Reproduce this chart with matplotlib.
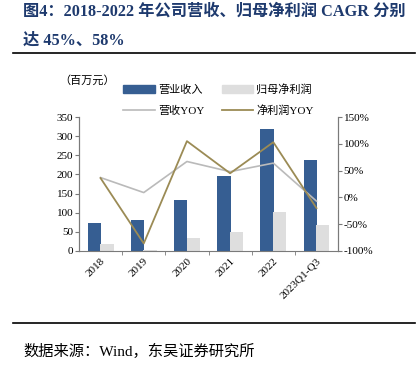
"""Revenue and net profit with YoY growth, 2018-2023Q1-Q3."""

import matplotlib
matplotlib.use("Agg")
import matplotlib.pyplot as plt
from matplotlib.lines import Line2D
from matplotlib.patches import Patch
from matplotlib.ticker import FuncFormatter

FONTS = ["Liberation Serif", "Noto Sans CJK SC", "DejaVu Sans"]
plt.rcParams["font.family"] = FONTS

years = ["2018", "2019", "2020", "2021", "2022", "2023Q1-Q3"]
revenue = [73, 80, 132, 195, 319, 239]
net_profit = [17, 3, 35, 50, 103, 69]
revenue_yoy = [37, 9, 67, 48, 64, -7]
profit_yoy = [36, -86, 105, 45, 103, -20]

BLUE = "#365e92"
LIGHT = "#dedede"
GRAY = "#bababa"
OLIVE = "#9b8b55"
NAVY = "#1e3a6e"
SPINE = "#7a7a7a"

fig = plt.figure(figsize=(4.2, 3.68), dpi=100)
ax = fig.add_axes([0.188, 0.318, 0.617, 0.364])
ax2 = ax.twinx()

x = list(range(len(years)))
ax.bar([i - 0.3 for i in x], revenue, width=0.31, align="edge", color=BLUE, zorder=2)
ax.bar([i - 0.01 for i in x], net_profit, width=0.31, align="edge", color=LIGHT, zorder=2)
ax2.plot(x, revenue_yoy, color=GRAY, lw=1.2)
ax2.plot(x, profit_yoy, color=OLIVE, lw=1.3)

ax.set_xlim(-0.5, len(years) - 0.5)
ax.set_ylim(0, 350)
ax.set_yticks(range(0, 351, 50))
ax2.set_ylim(-100, 150)
ax2.set_yticks(range(-100, 151, 50))
ax2.yaxis.set_major_formatter(FuncFormatter(lambda v, _: f"{v:.0f}%"))

ax.set_xticks(x)
ax.set_xticklabels(years, rotation=45, ha="right", va="top", rotation_mode="anchor")
ax.set_xticks([i + 0.5 for i in x[:-1]], minor=True)
ax.tick_params(axis="x", which="major", length=0, pad=4, labelsize=8)
ax.tick_params(axis="x", which="minor", length=3, direction="out", color=SPINE)
ax.tick_params(axis="y", length=3, direction="out", color=SPINE, labelsize=8, pad=1)
ax2.tick_params(axis="y", length=3, direction="out", color=SPINE, labelsize=8, pad=1)

for a in (ax, ax2):
    a.spines["top"].set_visible(False)
    for side in ("left", "right", "bottom"):
        a.spines[side].set_color(SPINE)
ax2.spines["bottom"].set_visible(False)

fig.text(0.14, 0.782, "（百万元）", fontsize=8, ha="left", va="center",
         family=["Noto Sans CJK SC"])

handles = [
    Patch(color=BLUE),
    Line2D([], [], color=GRAY, lw=1.2),
    Patch(color=LIGHT),
    Line2D([], [], color=OLIVE, lw=1.3),
]
labels = ["营业收入", "营收YOY", "归母净利润", "净利润YOY"]
fig.legend(handles, labels, ncol=2, loc="center left", bbox_to_anchor=(0.27, 0.728),
           frameon=False, fontsize=8, handlelength=2.8, handleheight=0.6,
           handletextpad=0.3, columnspacing=1.6, labelspacing=0.95)

fig.text(0.055, 0.968, "图4：2018-2022 年公司营收、归母净利润 CAGR 分别",
         fontsize=11.7, fontweight="bold", color=NAVY, ha="left", va="center")
fig.text(0.055, 0.89, "达 45%、58%",
         fontsize=11.7, fontweight="bold", color=NAVY, ha="left", va="center")
fig.add_artist(Line2D([0.031, 0.988], [0.856, 0.856], color="black", lw=1.2))
fig.add_artist(Line2D([0.031, 0.988], [0.122, 0.122], color="black", lw=1.2))
fig.text(0.055, 0.045, "数据来源：Wind，东吴证券研究所", fontsize=11, ha="left", va="center")

fig.savefig("out.png", dpi=100)
